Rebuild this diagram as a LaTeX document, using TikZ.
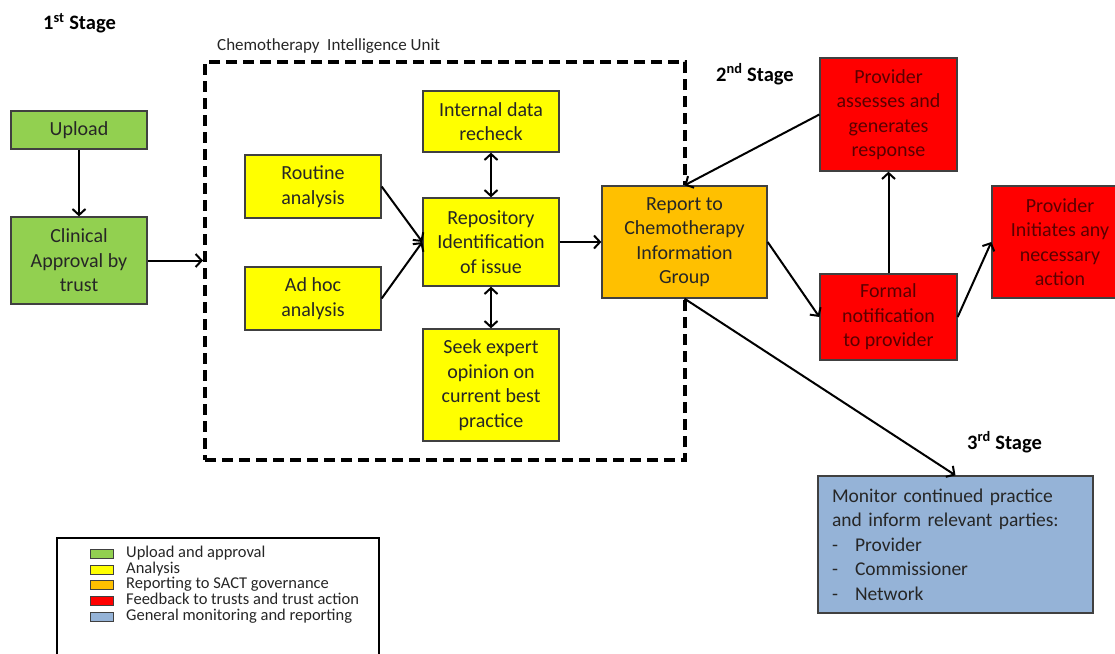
\documentclass[tikz,border=0pt]{standalone}
\usepackage{fontspec}
\setmainfont{Carlito}
\usetikzlibrary{arrows.meta,calc}
\definecolor{cgreen}{HTML}{92D050}
\definecolor{cyellow}{HTML}{FFFF00}
\definecolor{corange}{HTML}{FFC000}
\definecolor{cred}{HTML}{FF0000}
\definecolor{cblue}{HTML}{95B3D7}
\definecolor{boxline}{HTML}{404040}
\definecolor{txt}{HTML}{262626}
\definecolor{redtxt}{HTML}{5A0000}
\tikzset{
  box/.style={draw=boxline, line width=1.3pt, inner sep=0pt, align=center,
    font=\fontsize{20}{24.5}\selectfont, text=txt},
  arr/.style={line width=2pt, -{Straight Barb[length=6pt,width=13pt]}},
  darr/.style={line width=2pt, {Straight Barb[length=6pt,width=13pt]}-{Straight Barb[length=6pt,width=13pt]}},
  stagelbl/.style={anchor=west, inner sep=0pt, font=\fontsize{20.5}{24}\selectfont\bfseries},
  swatch/.style={draw=boxline, line width=0.8pt, minimum width=23pt, minimum height=9pt, inner sep=0pt},
  legtxt/.style={anchor=west, inner sep=0pt, text height=10pt, text depth=3pt,
    font=\fontsize{16.5}{19}\selectfont, text=txt},
}
\begin{document}
\begin{tikzpicture}[x=1pt,y=-1pt]
\useasboundingbox (0,0) rectangle (1115,653);
\clip (0,0) rectangle (1115,653);
\fill[white] (0,0) rectangle (1115,653);

% stage labels
\node[stagelbl] (s1) at (43,23) {1\textsuperscript{st} Stage};
\node[stagelbl] (s2) at (716,74) {2\textsuperscript{nd} Stage};
\node[stagelbl] (s3) at (967,442) {3\textsuperscript{rd} Stage};

% dashed unit
\node[draw, line width=4pt, dash pattern=on 11pt off 6pt, minimum width=480pt, minimum height=398pt, inner sep=0pt] (ciu) at (445,261) {};
\node[anchor=west, inner sep=0pt, font=\fontsize{17}{20}\selectfont, text=txt] (ciulbl) at (217,46) {Chemotherapy\ \ Intelligence Unit};

% stage 1
\node[box, fill=cgreen, minimum width=136pt, minimum height=38pt] (up) at (79,130) {Upload};
\node[box, fill=cgreen, minimum width=136pt, minimum height=87pt] (clin) at (79,260.5) {Clinical\\Approval by\\trust};

% analysis
\node[box, fill=cyellow, minimum width=136pt, minimum height=63pt] (rout) at (313,186.5) {Routine\\analysis};
\node[box, fill=cyellow, minimum width=136pt, minimum height=63pt] (adhoc) at (313,298.5) {Ad hoc\\analysis};
\node[box, fill=cyellow, minimum width=136pt, minimum height=61pt] (intl) at (491,121.5) {Internal data\\recheck};
\node[box, fill=cyellow, minimum width=136pt, minimum height=88pt] (repo) at (491,242) {Repository\\Identification\\of issue};
\node[box, fill=cyellow, minimum width=136pt, minimum height=112pt] (seek) at (491,385) {Seek expert\\opinion on\\current best\\practice};

% report
\node[box, fill=corange, minimum width=165pt, minimum height=112pt] (rep) at (684.5,242) {Report to\\Chemotherapy\\Information\\Group};

% feedback
\node[box, fill=cred, text=redtxt, minimum width=137pt, minimum height=113pt] (assess) at (888.5,114.5) {Provider\\assesses and\\generates\\response};
\node[box, fill=cred, text=redtxt, minimum width=137pt, minimum height=86pt] (formal) at (888.5,317) {Formal\\notification\\to provider};
\node[box, fill=cred, text=redtxt, minimum width=136pt, minimum height=112pt] (init) at (1060,242) {Provider\\Initiates any\\necessary\\action};

% monitoring
\node[box, fill=cblue, minimum width=275pt, minimum height=137pt, align=left, text width=247pt, inner xsep=14pt,
  font=\fontsize{19.5}{24.6}\selectfont] (mon) at (955.5,544.5)
  {Monitor continued practice\\and inform relevant parties:\\\makebox[23pt][l]{-}Provider\\\makebox[23pt][l]{-}Commissioner\\\makebox[23pt][l]{-}Network};

% connectors
\draw[arr] (up) -- (clin);
\draw[arr] (clin.east) -- (clin.east -| ciu.west);
\draw[arr] (rout.east) -- (repo.west);
\draw[arr] (adhoc.east) -- (repo.west);
\draw[darr] (intl) -- (repo);
\draw[darr] (repo) -- (seek);
\draw[arr] (repo.east) -- (rep.west);
\draw[arr] (assess.west) -- (rep.north);
\draw[arr] (rep.east) -- (formal.west);
\draw[arr] (formal) -- (assess);
\draw[arr] (formal.east) -- (init.west);
\draw[arr] (rep.south) -- (mon.north);

% legend
\node[draw, line width=2pt, minimum width=322pt, minimum height=140pt, inner sep=0pt, anchor=north west] (leg) at (56,537) {};
\node[swatch, fill=cgreen] (sw1) at (101.5,554) {};
\node[swatch, fill=cyellow] (sw2) at (101.5,569.5) {};
\node[swatch, fill=corange] (sw3) at (101.5,585) {};
\node[swatch, fill=cred] (sw4) at (101.5,600.5) {};
\node[swatch, fill=cblue] (sw5) at (101.5,616.5) {};
\node[legtxt] (l1) at (126,554) {Upload and approval};
\node[legtxt] (l2) at (126,569.5) {Analysis};
\node[legtxt] (l3) at (126,585) {Reporting to SACT governance};
\node[legtxt] (l4) at (126,600.5) {Feedback to trusts and trust action};
\node[legtxt] (l5) at (126,616.5) {General monitoring and reporting};
\end{tikzpicture}
\end{document}
